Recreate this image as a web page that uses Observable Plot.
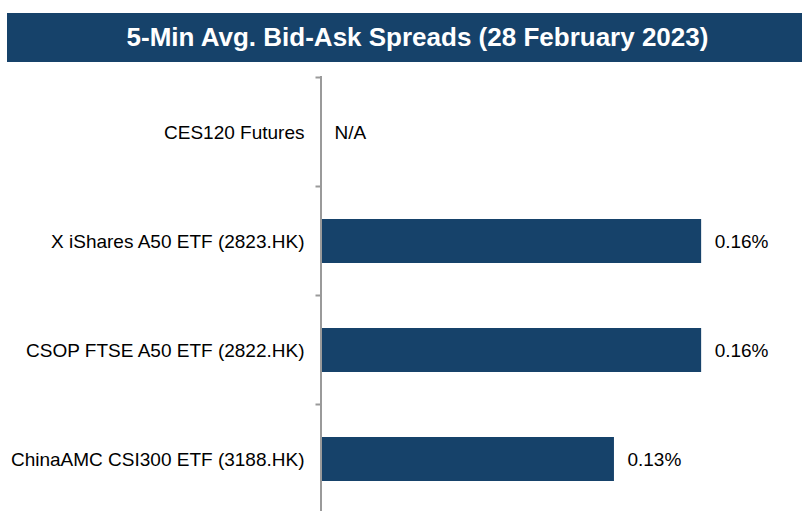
<!DOCTYPE html>
<html>
<head>
<meta charset="utf-8">
<script src="https://cdn.jsdelivr.net/npm/d3@7"></script>
<script src="https://cdn.jsdelivr.net/npm/@observablehq/plot@0.6"></script>
<style>
  html, body { margin: 0; padding: 0; background: #fff; overflow: hidden; width: 802px; height: 511px; }
  #title {
    position: absolute; left: 7px; top: 13px; width: 769px; height: 49px;
    padding-left: 26px;
    background: #16426A; color: #fff;
    font: bold 26px "Liberation Sans", Arial, sans-serif;
    text-align: center; line-height: 49px; white-space: nowrap;
  }
  #chart { position: absolute; left: 0; top: 0; }
</style>
</head>
<body>
<div id="title">5-Min Avg. Bid-Ask Spreads (28 February 2023)</div>
<div id="chart"></div>
<script>
const categories = [
  "CES120 Futures",
  "X iShares A50 ETF (2823.HK)",
  "CSOP FTSE A50 ETF (2822.HK)",
  "ChinaAMC CSI300 ETF (3188.HK)"
];
const spreads = [null, 0.1635, 0.1635, 0.126];
const valueLabels = ["N/A", "0.16%", "0.16%", "0.13%"];

const rows = categories.map((c, i) => ({category: c, value: spreads[i], label: valueLabels[i]}));
const barColor = "#16426A";
const axisColor = "#9a9a9a";

const plot = Plot.plot({
  width: 802,
  height: 514,
  marginTop: 76,
  marginBottom: 0,
  marginLeft: 321,
  marginRight: 16,
  style: {fontFamily: "'Liberation Sans', Arial, sans-serif", fontSize: "19px", color: "#000", background: "transparent"},
  x: {domain: [0, 0.2], axis: null},
  y: {domain: categories, paddingInner: 0.6, paddingOuter: 0.3, tickSize: 0, tickPadding: 17, label: null},
  marks: [
    Plot.barX(rows.filter(d => d.value != null), {x: "value", y: "category", fill: barColor}),
    Plot.ruleX([0], {stroke: axisColor, strokeWidth: 2, dx: -0.5}),
    Plot.text(rows, {x: d => d.value ?? 0, y: "category", text: "label", textAnchor: "start", dx: 13, fill: "#000", fontSize: 19})
  ]
});

// category boundary ticks on the y axis, positioned from the plot's own y scale
const ys = plot.scale("y");
const xs = plot.scale("x");
const gap = (ys.step - ys.bandwidth) / 2;
const bounds = categories.map(c => ys.apply(c) - gap);
bounds.push(ys.apply(categories[categories.length - 1]) + ys.bandwidth + gap);
const x0 = xs.apply(0) - 0.5;
d3.select(plot).append("g")
  .attr("stroke", axisColor).attr("stroke-width", 2)
  .selectAll("line").data(bounds).join("line")
  .attr("x1", x0 - 5).attr("x2", x0)
  .attr("y1", d => d).attr("y2", d => d);

document.getElementById("chart").appendChild(plot);
</script>
</body>
</html>
